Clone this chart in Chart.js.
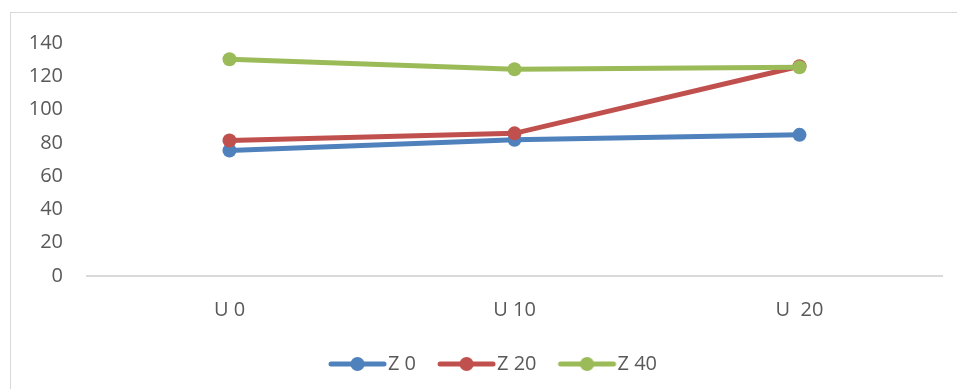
<!DOCTYPE html>
<html>
<head>
<meta charset="utf-8">
<script src="https://cdn.jsdelivr.net/npm/chart.js@4/dist/chart.umd.min.js"></script>
<style>
  html, body { margin: 0; padding: 0; background: #fff; overflow: hidden; }
  #wrap { position: relative; width: 957px; height: 389px; }
  #frame { position: absolute; left: 10px; top: 12px; width: 980px; height: 400px;
           border: 1px solid #d9d9d9; pointer-events: none; }
</style>
</head>
<body>
<div id="wrap">
  <canvas id="chart" width="957" height="389"></canvas>
  <div id="frame"></div>
</div>
<script>
// data
var categories = ["U 0", "U 10", "U  20"];
var seriesNames = ["Z 0", "Z 20", "Z 40"];
var z0 = [75.4, 81.8, 84.8];
var z20 = [81.4, 85.7, 126];
var z40 = [130.2, 124.2, 125.4];
var yTicks = [0, 20, 40, 60, 80, 100, 120, 140];

var colors = ["#4f81bd", "#c0504d", "#9bbb59"];
var textColor = "#595959";
var fontFamily = "'Open Sans', 'DejaVu Sans', sans-serif";
var fontSize = 20;

// legend marker: short line with a dot, drawn in the right part of a wider image
function legendMarker(color) {
    var c = document.createElement("canvas");
    c.width = 81;
    c.height = 16;
    var ctx = c.getContext("2d");
    ctx.strokeStyle = color;
    ctx.lineWidth = 5;
    ctx.lineCap = "round";
    ctx.beginPath();
    ctx.moveTo(24, 8);
    ctx.lineTo(77, 8);
    ctx.stroke();
    ctx.fillStyle = color;
    ctx.beginPath();
    ctx.arc(50.5, 8, 7, 0, Math.PI * 2);
    ctx.fill();
    return c;
}

function makeSet(name, values, i) {
    return {
        label: name,
        data: values,
        borderColor: colors[i],
        backgroundColor: colors[i],
        borderWidth: 5,
        pointRadius: 7,
        pointHoverRadius: 7,
        pointBorderWidth: 0,
        tension: 0,
        order: 3 - i
    };
}

// nudge the legend to the right, like the original
var legendShift = {
    id: "legendShift",
    afterLayout: function (chart) {
        chart.legend.left += 16;
        chart.legend.right += 16;
    }
};

new Chart("chart", {
    type: "line",
    data: {
        labels: categories,
        datasets: [
            makeSet(seriesNames[0], z0, 0),
            makeSet(seriesNames[1], z20, 1),
            makeSet(seriesNames[2], z40, 2)
        ]
    },
    plugins: [legendShift],
    options: {
        responsive: false,
        animation: false,
        layout: { padding: { left: 0, right: 15, top: 43, bottom: 5 } },
        plugins: {
            tooltip: { enabled: false },
            legend: {
                position: "bottom",
                labels: {
                    usePointStyle: true,
                    pointStyleWidth: 61,
                    padding: 10,
                    color: textColor,
                    font: { family: fontFamily, size: fontSize },
                    generateLabels: function (chart) {
                        return chart.data.datasets.map(function (ds, i) {
                            return {
                                text: ds.label,
                                fillStyle: colors[i],
                                strokeStyle: colors[i],
                                lineWidth: 0,
                                pointStyle: legendMarker(colors[i]),
                                fontColor: textColor,
                                datasetIndex: i
                            };
                        });
                    }
                }
            }
        },
        scales: {
            x: {
                offset: true,
                grid: { display: false, drawTicks: false },
                border: { display: true, color: "#d9d9d9", width: 2 },
                ticks: {
                    color: textColor,
                    padding: 22,
                    font: { family: fontFamily, size: fontSize }
                }
            },
            y: {
                min: 0,
                max: 140,
                afterFit: function (scale) { scale.width = 87; },
                afterBuildTicks: function (scale) {
                    scale.ticks = yTicks.map(function (v) { return { value: v }; });
                },
                grid: { display: false, drawTicks: false },
                border: { display: false },
                ticks: {
                    color: textColor,
                    padding: 24,
                    font: { family: fontFamily, size: fontSize }
                }
            }
        }
    }
});
</script>
</body>
</html>
